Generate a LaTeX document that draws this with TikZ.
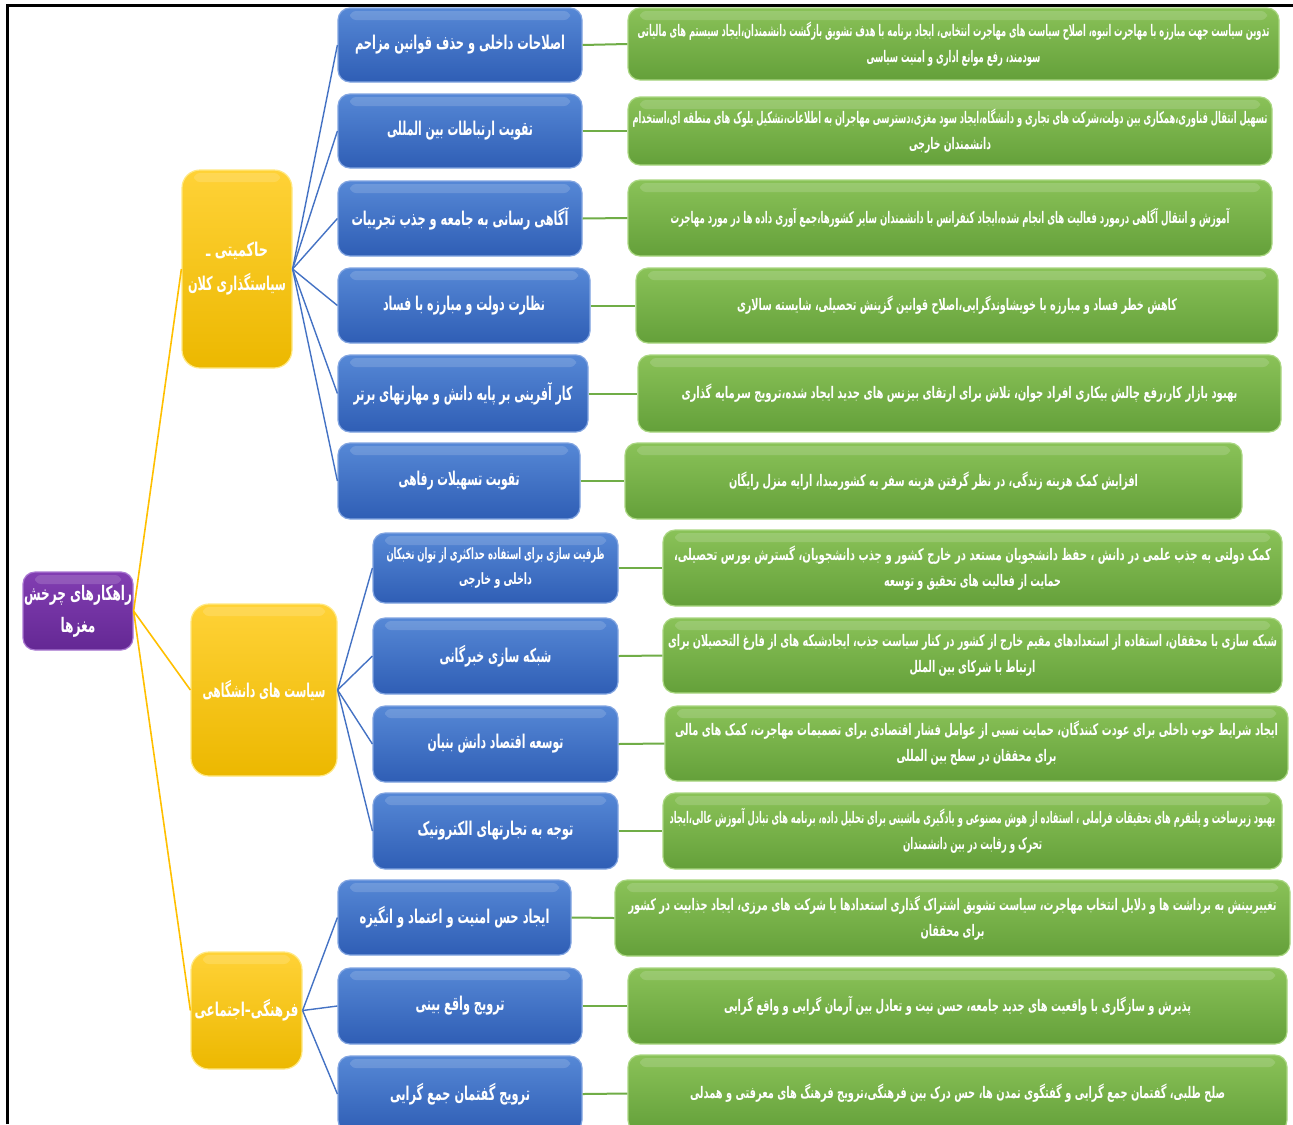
\documentclass[tikz,border=0pt]{standalone}
\usepackage{fontspec}
\usepackage{graphicx}
\TeXXeTstate=1
\newfontfamily\fa[Script=Arabic]{DejaVu Sans Bold}
\newlength\pxu \setlength\pxu{0.5pt}
\newcommand\fl[2]{\resizebox{#1\pxu}{\height}{#2}}
\newcommand\mybox[7]{\node[#1,minimum width={(#5-#3)*0.5pt},minimum height={(#6-#4)*0.5pt}] (#2) at ({(#3+#5)/2},{(#4+#6)/2}) {#7};}
\definecolor{blueA}{RGB}{86,136,214}
\definecolor{blueB}{RGB}{47,94,181}
\definecolor{blueE}{RGB}{130,165,225}
\definecolor{greenA}{RGB}{138,194,88}
\definecolor{greenB}{RGB}{100,160,58}
\definecolor{greenE}{RGB}{170,215,130}
\definecolor{yelA}{RGB}{255,210,55}
\definecolor{yelB}{RGB}{236,184,0}
\definecolor{yelE}{RGB}{255,232,130}
\definecolor{purA}{RGB}{130,62,178}
\definecolor{purB}{RGB}{100,40,148}
\definecolor{purE}{RGB}{170,120,210}
\definecolor{lnblue}{RGB}{68,114,196}
\definecolor{lnyel}{RGB}{255,192,0}
\definecolor{lngrn}{RGB}{112,173,71}
\tikzset{
  gloss/.style={path picture={\fill[white,opacity=0.15,rounded corners=3pt]
     ([xshift=6pt,yshift=-1.5pt]path picture bounding box.north west) rectangle
     ([xshift=-6pt,yshift=-6pt]path picture bounding box.north east);}},
  basebox/.style={rounded corners=6pt, line width=0.6pt, inner sep=0pt, align=center,
     text=white, gloss},
  bluebox/.style={basebox, top color=blueA, bottom color=blueB, draw=blueE,
     font=\fa\fontsize{9.5}{13}\selectfont},
  greenbox/.style={basebox, top color=greenA, bottom color=greenB, draw=greenE,
     font=\fa\fontsize{8}{13}\selectfont},
  yelbox/.style={basebox, rounded corners=9pt, top color=yelA, bottom color=yelB, draw=yelE,
     font=\fa\fontsize{9.5}{17}\selectfont},
  purbox/.style={basebox, top color=purA, bottom color=purB, draw=purE,
     font=\fa\fontsize{10}{16}\selectfont},
  bluelink/.style={draw=lnblue, line width=0.7pt},
  yellink/.style={draw=lnyel, line width=0.8pt},
  greenlink/.style={draw=lngrn, line width=1pt},
}
\begin{document}
\begin{tikzpicture}[x=0.5pt,y=-0.5pt]
\useasboundingbox (0,0) rectangle (1293,1124);
\fill[white] (0,0) rectangle (1293,1124);
\clip (0,0) rectangle (1293,1124);

% root
\mybox{purbox}{root}{23}{572}{133}{650}{\fl{108}{\beginR راهکارهای چرخش\endR}\\\fl{35}{\beginR مغزها\endR}}
% level 1
\mybox{yelbox}{y1}{182}{170}{292}{368}{\fl{62}{\beginR حاکمیتی ـ\endR}\\\fl{98}{\beginR سیاستگذاری کلان\endR}}
\mybox{yelbox}{y2}{191}{604}{337}{776}{\fl{123}{\beginR سیاست های دانشگاهی\endR}}
\mybox{yelbox}{y3}{191}{952}{302}{1069}{\fl{104}{\beginR فرهنگی–اجتماعی\endR}}

% level 2 (blue)
\mybox{bluebox}{b1}{338}{8}{582}{82}{\fl{210}{\beginR اصلاحات داخلی و حذف قوانین مزاحم\endR}}
\mybox{bluebox}{b2}{338}{94}{582}{168}{\fl{146}{\beginR تقویت ارتباطات بین المللی\endR}}
\mybox{bluebox}{b3}{338}{181}{582}{256}{\fl{217}{\beginR آگاهی رسانی به جامعه و جذب تجربیات\endR}}
\mybox{bluebox}{b4}{338}{268}{590}{343}{\fl{162}{\beginR نظارت دولت و مبارزه با فساد\endR}}
\mybox{bluebox}{b5}{338}{355}{588}{432}{\fl{219}{\beginR کار آفرینی بر پایه دانش و مهارتهای برتر\endR}}
\mybox{bluebox}{b6}{338}{443}{580}{519}{\fl{121}{\beginR تقویت تسهیلات رفاهی\endR}}
\mybox{bluebox,font=\fa\fontsize{7.8}{12.5}\selectfont}{b7}{373}{533}{618}{603}{\fl{218}{\beginR ظرفیت سازی برای استفاده حداکثری از توان نخبکان\endR}\\\fl{73}{\beginR داخلی و خارجی\endR}}
\mybox{bluebox}{b8}{373}{618}{618}{694}{\fl{112}{\beginR شبکه سازی خبرگانی\endR}}
\mybox{bluebox}{b9}{373}{706}{618}{782}{\fl{136}{\beginR توسعه اقتصاد دانش بنیان\endR}}
\mybox{bluebox}{b10}{373}{793}{618}{869}{\fl{156}{\beginR توجه به تجارتهای الکترونیک\endR}}
\mybox{bluebox}{b11}{338}{880}{571}{955}{\fl{190}{\beginR ایجاد حس  امنیت و اعتماد و انگیزه\endR}}
\mybox{bluebox}{b12}{338}{968}{582}{1044}{\fl{89}{\beginR ترویج واقع بینی\endR}}
\mybox{bluebox}{b13}{338}{1056}{582}{1132}{\fl{140}{\beginR ترویج گفتمان جمع گرایی\endR}}

% level 3 (green)
\mybox{greenbox}{g1}{628}{8}{1279}{80}{\fl{632}{\beginR تدوین سیاست جهت مبارزه با مهاجرت انبوه، اصلاح سیاست های مهاجرت انتخابی، ایجاد برنامه با هدف تشویق بازگشت دانشمندان،ایجاد سیستم های مالیاتی\endR}\\\fl{174}{\beginR سودمند، رفع موانع اداری  و امنیت سیاسی\endR}}
\mybox{greenbox}{g2}{628}{97}{1272}{165}{\fl{635}{\beginR تسهیل انتقال فناوری،همکاری بین دولت،شرکت های تجاری و دانشگاه،ایجاد سود مغزی،دسترسی مهاجران به اطلاعات،تشکیل بلوک های منطقه ای،استخدام\endR}\\\fl{82}{\beginR دانشمندان خارجی\endR}}
\mybox{greenbox}{g3}{628}{180}{1272}{256}{\fl{559}{\beginR آموزش و انتقال آگاهی درمورد فعالیت های انجام شده،ایجاد کنفرانس با دانشمندان سایر کشورها،جمع آوری داده ها در مورد مهاجرت\endR}}
\mybox{greenbox}{g4}{636}{268}{1278}{343}{\fl{440}{\beginR کاهش خطر فساد و مبارزه با خویشاوندگرایی،اصلاح قوانین گزینش تحصیلی، شایسته سالاری\endR}}
\mybox{greenbox}{g5}{638}{355}{1281}{432}{\fl{556}{\beginR بهبود بازار کار،رفع چالش بیکاری افراد جوان، تلاش برای ارتقای بیزنس های جدید ایجاد شده،ترویج سرمایه گذاری\endR}}
\mybox{greenbox}{g6}{625}{443}{1242}{519}{\fl{409}{\beginR افزایش کمک هزینه زندگی، در نظر گرفتن هزینه سفر به کشورمبدا، ارایه منزل رایگان\endR}}
\mybox{greenbox}{g7}{663}{530}{1282}{606}{\fl{597}{\beginR کمک دولتی به جذب علمی در دانش ، حفظ دانشجویان مستعد در خارج کشور و جذب دانشجویان، گسترش بورس تحصیلی،\endR}\\\fl{177}{\beginR حمایت از فعالیت های تحقیق و توسعه\endR}}
\mybox{greenbox}{g8}{663}{618}{1282}{693}{\fl{609}{\beginR شبکه سازی با محققان، استفاده از استعدادهای مقیم خارج از کشور در کنار سیاست جذب، ایجادشبکه های از فارغ التحصیلان برای\endR}\\\fl{126}{\beginR ارتباط با شرکای بین الملل\endR}}
\mybox{greenbox}{g9}{665}{706}{1288}{781}{\fl{603}{\beginR ایجاد شرایط خوب داخلی برای عودت کنندگان، حمایت نسبی از عوامل فشار اقتصادی برای تصمیمات مهاجرت، کمک های مالی\endR}\\\fl{160}{\beginR برای محققان در سطح بین المللی\endR}}
\mybox{greenbox}{g10}{663}{793}{1282}{869}{\fl{606}{\beginR بهبود زیرساخت و پلتفرم های تحقیقات فراملی ، استفاده از هوش مصنوعی و یادگیری ماشینی برای تحلیل داده، برنامه های تبادل  آموزش عالی،ایجاد\endR}\\\fl{139}{\beginR تحرک و رقابت در بین دانشمندان\endR}}
\mybox{greenbox}{g11}{615}{880}{1290}{956}{\fl{648}{\beginR تغییربینش به برداشت ها و دلایل انتخاب مهاجرت، سیاست تشویق اشتراک گذاری استعدادها با شرکت های مرزی، ایجاد جذابیت در کشور\endR}\\\fl{64}{\beginR برای محققان\endR}}
\mybox{greenbox}{g12}{628}{968}{1287}{1044}{\fl{467}{\beginR پذیرش و سازگاری با واقعیت های جدید جامعه، حسن نیت و تعادل بین  آرمان گرایی و واقع گرایی\endR}}
\mybox{greenbox}{g13}{628}{1055}{1287}{1132}{\fl{535}{\beginR صلح طلبی، گفتمان جمع گرایی و گفتگوی تمدن ها، حس درک بین فرهنگی،ترویج فرهنگ های معرفتی و همدلی\endR}}

% connectors
\foreach \y in {y1,y2,y3} \draw[yellink] (root.east) -- (\y.west);
\foreach \b in {b1,b2,b3,b4,b5,b6} \draw[bluelink] (y1.east) -- (\b.west);
\foreach \b in {b7,b8,b9,b10} \draw[bluelink] (y2.east) -- (\b.west);
\foreach \b in {b11,b12,b13} \draw[bluelink] (y3.east) -- (\b.west);
\foreach \i in {1,...,13} \draw[greenlink] (b\i.east) -- (g\i.west);

% frame
\draw[black,line width=1.5pt] (7,1124) -- (7,5) -- (1293,5);
\end{tikzpicture}
\end{document}
